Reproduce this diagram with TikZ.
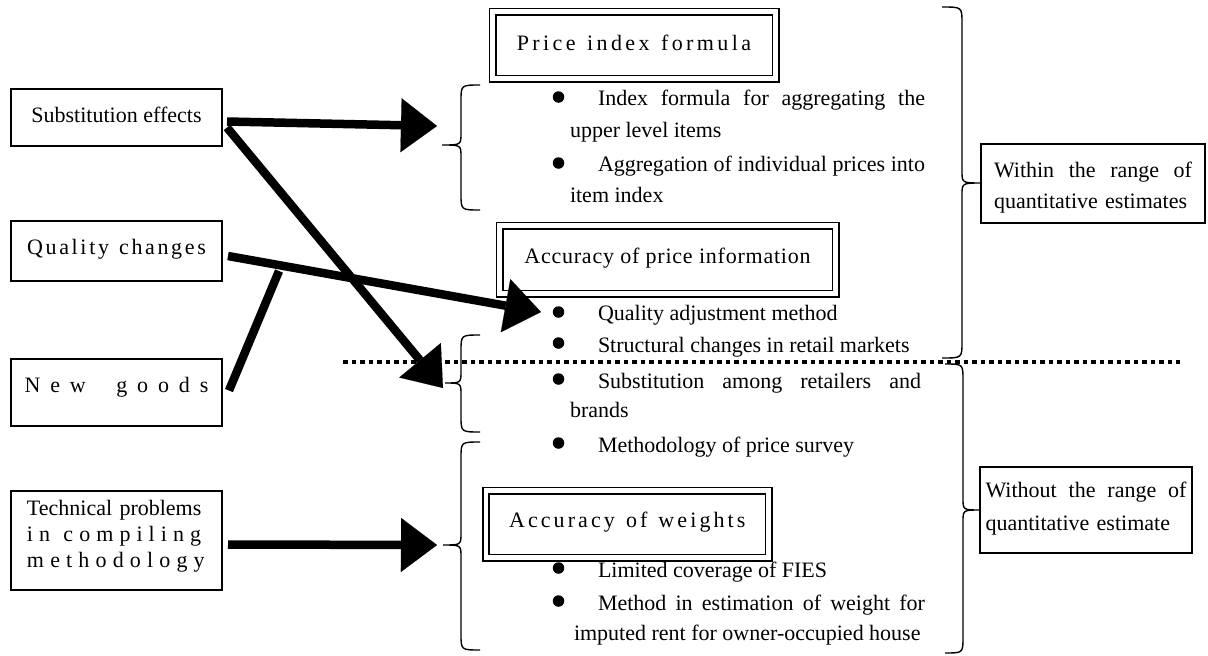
\documentclass[tikz,border=0pt]{standalone}
\usepackage{fontspec}
\setmainfont{Liberation Serif}
\usetikzlibrary{arrows.meta}
\begin{document}
\begin{tikzpicture}[x=1pt,y=-1pt,
  every node/.style={font=\fontsize{22}{26}\selectfont, inner sep=0pt, outer sep=0pt},
  box/.style={draw, line width=1.6pt, rectangle, text height=15pt},
  dbox/.style={draw, double, double distance=4.4pt, line width=1.8pt, rectangle, text height=15pt},
  fatarrow/.style={line width=8.5pt, -{Triangle[length=36pt,width=54pt,line width=0.1pt]}},
  fatline/.style={line width=8.5pt},
  bracepath/.style={line width=1.4pt},
  dotline/.style={line width=4.5pt, dash pattern=on 4.5pt off 4pt},
  bulletdot/.style={circle, fill, minimum size=11.5pt, inner sep=0pt},
  itemtext/.style={anchor=base west}
]
\fill[white] (0,0) rectangle (1208,656);
\useasboundingbox (0,0) rectangle (1208,656);

% left boxes
\node[box, minimum width=211pt, minimum height=57pt, text depth=6pt] (sub) at (116.5,117.5) {Substitution effects};
\node[box, minimum width=211pt, minimum height=60pt, text depth=9pt] (qual) at (116.5,251) {\addfontfeatures{LetterSpace=12}Quality\hspace{2pt} changes};
\node[box, minimum width=211pt, minimum height=67pt, text depth=16pt] (newg) at (116.5,392.5) {\addfontfeatures{LetterSpace=45}New\hspace{15pt} goods};
\node[box, minimum width=211pt, minimum height=99pt, text width=179pt, align=left, text depth=66pt] (tech) at (116.5,540.5) {Technical problems\\{\addfontfeatures{LetterSpace=27.5}in\hspace{6pt} compiling}\\{\addfontfeatures{LetterSpace=28}methodology}};

% double boxes
\node[dbox, minimum width=283pt, minimum height=67pt, text depth=5pt] (pif) at (634,45) {\addfontfeatures{LetterSpace=15.5}Price\hspace{2.5pt} index\hspace{2.5pt} formula};
\node[dbox, minimum width=336pt, minimum height=68pt, text depth=8pt] (api) at (667.5,259.5) {\addfontfeatures{LetterSpace=3.5}Accuracy of price information};
\node[dbox, minimum width=282.5pt, minimum height=67pt, text depth=9pt] (aw) at (627.25,524) {\addfontfeatures{LetterSpace=14}Accuracy\hspace{2.5pt} of\hspace{2.5pt} weights};

% right boxes
\node[box, minimum width=224pt, minimum height=79pt, text width=198pt, align=left, text depth=28pt, font=\fontsize{22}{31}\selectfont] (within) at (1093,183.5) {\hbox to 198pt{Within\hfill the\hfill range\hfill of}\\quantitative estimates};
\node[box, minimum width=212pt, minimum height=86pt, text width=201pt, align=left, text depth=41pt, font=\fontsize{22}{33}\selectfont] (without) at (1086,510) {\hbox to 201pt{Without\hfill the\hfill range\hfill of}\\quantitative estimate};

% bullet items
\node[bulletdot] (d1) at (558.5,97) {};
\node[itemtext] (t1) at (598,105) {\makebox[327pt][s]{Index formula for aggregating the}};
\node[itemtext] (t1b) at (570,137) {upper level items};
\node[bulletdot] (d2) at (558.5,163) {};
\node[itemtext] (t2) at (598,171.5) {\makebox[327pt][s]{Aggregation of individual prices into}};
\node[itemtext] (t2b) at (570,202) {item index};
\node[bulletdot] (d3) at (558.5,312) {};
\node[itemtext] (t3) at (598,320) {Quality adjustment method};
\node[bulletdot] (d4) at (558.5,343) {};
\node[itemtext] (t4) at (598,352) {Structural changes in retail markets};
\node[bulletdot] (d5) at (558.5,379) {};
\node[itemtext] (t5) at (598,388) {\makebox[323pt][s]{Substitution among retailers and}};
\node[itemtext] (t5b) at (570,417) {brands};
\node[bulletdot] (d6) at (558.5,443) {};
\node[itemtext] (t6) at (598,452) {Methodology of price survey};
\node[bulletdot] (d7) at (558.5,568) {};
\node[itemtext] (t7) at (598,577) {Limited coverage of FIES};
\node[bulletdot] (d8) at (558.5,601) {};
\node[itemtext] (t8) at (598,610) {\makebox[327pt][s]{Method in estimation of weight for}};
\node[itemtext] (t8b) at (574,640) {imputed rent for owner-occupied house};

% braces (left)
\draw[bracepath] (480,85) .. controls (461,85) .. (461,101) -- (461,133) .. controls (461,145) .. (442,145) .. controls (461,145) .. (461,157) -- (461,194) .. controls (461,210) .. (480,210);
\draw[bracepath] (480,335) .. controls (461,335) .. (461,351) -- (461,371) .. controls (461,383) .. (445,383) .. controls (461,383) .. (461,395) -- (461,416) .. controls (461,432) .. (480,432);
\draw[bracepath] (480,442) .. controls (461,442) .. (461,458) -- (461,533) .. controls (461,545) .. (443,545) .. controls (461,545) .. (461,557) -- (461,634) .. controls (461,650) .. (480,650);
% braces (right)
\draw[bracepath] (942,7) .. controls (962,7) .. (962,23) -- (962,171) .. controls (962,183) .. (982,183) .. controls (962,183) .. (962,195) -- (962,342) .. controls (962,358) .. (942,358);
\draw[bracepath] (945,364) .. controls (963,364) .. (963,380) -- (963,498) .. controls (963,510) .. (980,510) .. controls (963,510) .. (963,522) -- (963,637) .. controls (963,653) .. (945,653);

% dotted separator
\coordinate (dl1) at (343,362);
\coordinate (dl2) at (1180,362);
\draw[dotline] (dl1) -- (dl2);

% arrow targets
\coordinate (a1) at (437,126);
\coordinate (a2) at (443,388);
\coordinate (a3) at (541,312);
\coordinate (a4) at (279,271);
\coordinate (a5) at (437,545);

% connectors
\draw[fatarrow] ([shift={(5,4)}]sub.east) -- (a1);
\draw[fatarrow] ([shift={(5,10)}]sub.east) -- (a2);
\draw[fatarrow] ([shift={(6,5)}]qual.east) -- (a3);
\draw[fatline] ([shift={(7,-2)}]newg.east) -- (a4);
\draw[fatarrow] ([shift={(6,4)}]tech.east) -- (a5);
\end{tikzpicture}
\end{document}
